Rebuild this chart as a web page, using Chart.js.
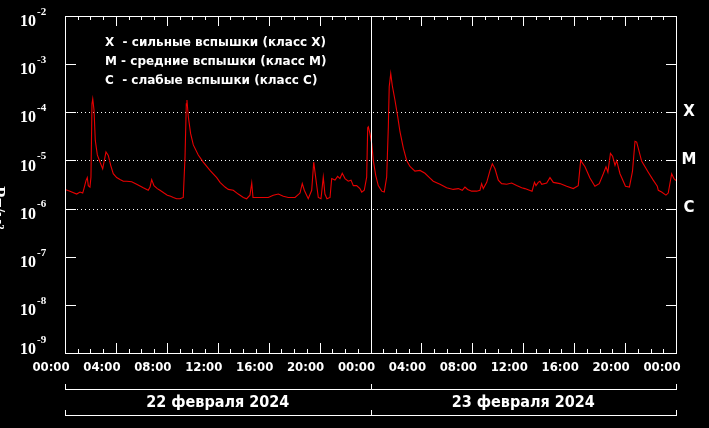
<!DOCTYPE html>
<html>
<head>
<meta charset="utf-8">
<script src="https://cdn.jsdelivr.net/npm/chart.js@4/dist/chart.umd.min.js"></script>
<style>
  html, body { margin: 0; padding: 0; background: #000; }
  #wrap { width: 709px; height: 428px; }
</style>
</head>
<body>
<div id="wrap"><canvas id="xray"></canvas></div>
<script>
// hours since 22 Feb 00:00 UT and X-ray flux, W/m2
var hours = [0.00, 0.39, 0.92, 1.18, 1.39, 1.49, 1.65, 1.75, 1.83, 1.96, 2.04, 2.12, 2.18, 2.28, 2.38, 2.54, 2.75, 2.96, 3.09, 3.22,
  3.40, 3.59, 3.79, 4.06, 4.32, 4.58, 4.85, 5.24, 5.63, 6.15, 6.54, 6.68, 6.81, 6.99, 7.25, 7.46, 7.78, 8.04, 8.30, 8.51,
  8.77, 9.03, 9.29, 9.43, 9.53, 9.58, 9.69, 9.87, 10.08, 10.47, 10.86, 11.39, 11.92, 12.18, 12.57, 12.83, 13.22, 13.61, 14.01, 14.27,
  14.53, 14.67, 14.77, 15.06, 15.45, 15.97, 16.36, 16.76, 17.15, 17.54, 18.07, 18.46, 18.64, 18.80, 19.11, 19.38, 19.54, 19.69, 19.90, 20.11,
  20.29, 20.42, 20.58, 20.82, 20.95, 21.21, 21.42, 21.60, 21.78, 22.00, 22.25, 22.47, 22.65, 22.91, 23.17, 23.31, 23.51, 23.70, 23.78, 23.83,
  23.96, 24.10, 24.22, 24.41, 24.61, 24.88, 25.08, 25.27, 25.40, 25.47, 25.59, 25.71, 25.92, 26.14, 26.32, 26.58, 26.84, 27.10, 27.49, 27.89,
  28.28, 28.59, 28.93, 29.46, 29.98, 30.50, 30.90, 31.21, 31.42, 31.63, 31.95, 32.34, 32.60, 32.73, 32.86, 33.13, 33.39, 33.57, 33.78, 34.04,
  34.30, 34.70, 35.09, 35.48, 35.88, 36.13, 36.69, 36.88, 37.00, 37.18, 37.31, 37.45, 37.84, 38.10, 38.36, 38.88, 39.41, 39.93, 40.32, 40.51,
  40.85, 41.24, 41.63, 41.97, 42.29, 42.50, 42.65, 42.85, 43.02, 43.21, 43.34, 43.60, 44.03, 44.34, 44.58, 44.78, 44.91, 45.30, 45.82, 46.21,
  46.53, 46.61, 46.87, 47.21, 47.39, 47.66, 47.84, 48.00];
var flux = [2.5e-6, 2.3e-6, 2.0e-6, 2.2e-6, 2.1e-6, 2.6e-6, 3.8e-6, 4.4e-6, 3.0e-6, 2.8e-6, 4.5e-6, 1.5e-4, 1.9e-4, 1.1e-4, 2.6e-5, 1.3e-5, 9.2e-6, 6.7e-6, 1.0e-5, 1.5e-5,
  1.27e-5, 7.9e-6, 5.3e-6, 4.4e-6, 4.0e-6, 3.7e-6, 3.7e-6, 3.6e-6, 3.2e-6, 2.7e-6, 2.4e-6, 2.8e-6, 4.0e-6, 3.0e-6, 2.6e-6, 2.4e-6, 2.1e-6, 1.9e-6, 1.8e-6, 1.7e-6,
  1.6e-6, 1.6e-6, 1.7e-6, 1.2e-5, 1.5e-4, 1.8e-4, 8.0e-5, 3.6e-5, 2.1e-5, 1.3e-5, 9.2e-6, 6.2e-6, 4.4e-6, 3.5e-6, 2.8e-6, 2.5e-6, 2.4e-6, 2.0e-6, 1.7e-6, 1.6e-6,
  1.9e-6, 3.4e-6, 1.7e-6, 1.7e-6, 1.7e-6, 1.7e-6, 1.9e-6, 2.0e-6, 1.8e-6, 1.7e-6, 1.7e-6, 2.1e-6, 3.3e-6, 2.4e-6, 1.6e-6, 2.4e-6, 9.2e-6, 4.5e-6, 1.7e-6, 1.6e-6,
  4.5e-6, 2.0e-6, 1.6e-6, 1.7e-6, 4.2e-6, 3.9e-6, 4.65e-6, 4.2e-6, 5.4e-6, 4.2e-6, 3.7e-6, 3.9e-6, 3.0e-6, 3.0e-6, 2.6e-6, 2.2e-6, 2.4e-6, 4.5e-6, 4.8e-5, 5.0e-5,
  3.6e-5, 2.2e-5, 1.0e-5, 4.9e-6, 3.0e-6, 2.3e-6, 2.2e-6, 4.5e-6, 4.9e-5, 3.4e-4, 6.4e-4, 3.6e-4, 1.8e-4, 8.0e-5, 3.9e-5, 1.8e-5, 1.0e-5, 7.5e-6, 6.0e-6, 6.2e-6,
  5.4e-6, 4.5e-6, 3.7e-6, 3.2e-6, 2.7e-6, 2.5e-6, 2.6e-6, 2.4e-6, 2.8e-6, 2.5e-6, 2.3e-6, 2.3e-6, 2.4e-6, 3.3e-6, 2.6e-6, 3.5e-6, 6.2e-6, 8.5e-6, 6.7e-6, 3.9e-6,
  3.3e-6, 3.2e-6, 3.4e-6, 3.0e-6, 2.7e-6, 2.6e-6, 2.3e-6, 3.5e-6, 3.0e-6, 3.5e-6, 3.7e-6, 3.2e-6, 3.4e-6, 4.4e-6, 3.5e-6, 3.3e-6, 2.9e-6, 2.6e-6, 3.0e-6, 1.0e-5,
  7.4e-6, 4.3e-6, 2.9e-6, 3.3e-6, 5.3e-6, 7.4e-6, 5.7e-6, 1.4e-5, 1.22e-5, 7.9e-6, 9.9e-6, 5.3e-6, 2.9e-6, 2.8e-6, 5.9e-6, 2.5e-5, 2.4e-5, 9.7e-6, 5.7e-6, 3.9e-6,
  2.9e-6, 2.4e-6, 2.2e-6, 1.9e-6, 2.1e-6, 5.3e-6, 4.2e-6, 3.8e-6];

var xTickHours = [0, 4, 8, 12, 16, 20, 24, 28, 32, 36, 40, 44, 48];
var xTickLabels = ['00:00', '04:00', '08:00', '12:00', '16:00', '20:00', '00:00', '04:00', '08:00', '12:00', '16:00', '20:00', '00:00'];
var yTickExps = [-2, -3, -4, -5, -6, -7, -8, -9];
var classValues = [1e-4, 1e-5, 1e-6];
var classLabels = ['X', 'M', 'C'];
var legendLines = ['X  - сильные вспышки (класс X)', 'M - средние вспышки (класс M)', 'C  - слабые вспышки (класс C)'];
var dayLabels = ['22 февраля 2024', '23 февраля 2024'];
var dayBounds = [0, 24, 48];
var yTitle = 'Вт/м²';

var points = hours.map(function(h, i) { return { x: h, y: flux[i] }; });

var narrow = '"Liberation Sans Narrow", "DejaVu Sans Condensed", sans-serif';

var framePlugin = {
    id: 'frame',
    beforeDatasetsDraw: function(chart) {
        var ctx = chart.ctx;
        var a = chart.chartArea;
        var ys = chart.scales.y;
        ctx.save();
        // dotted class lines
        ctx.strokeStyle = '#fff';
        ctx.lineWidth = 1;
        ctx.setLineDash([1, 3]);
        classValues.forEach(function(v) {
            var y = Math.round(ys.getPixelForValue(v)) + 0.5;
            ctx.beginPath();
            ctx.moveTo(a.left + 12, y);
            ctx.lineTo(a.right - 12, y);
            ctx.stroke();
        });
        ctx.restore();
    },
    afterDatasetsDraw: function(chart) {
        var ctx = chart.ctx;
        var a = chart.chartArea;
        var xs = chart.scales.x, ys = chart.scales.y;
        ctx.save();
        ctx.strokeStyle = '#fff';
        ctx.fillStyle = '#fff';
        ctx.lineWidth = 1;

        // frame
        ctx.strokeRect(Math.round(a.left) + 0.5, Math.round(a.top) + 0.5,
            Math.round(a.right - a.left), Math.round(a.bottom - a.top));

        // midnight line
        var mx = Math.round(xs.getPixelForValue(24)) + 0.5;
        ctx.beginPath();
        ctx.moveTo(mx, a.top);
        ctx.lineTo(mx, a.bottom);
        ctx.stroke();

        // x ticks, top and bottom, every hour
        ctx.beginPath();
        for (var h = 0; h <= 48; h++) {
            var x = Math.round(xs.getPixelForValue(h)) + 0.5;
            var len = (h % 4 === 0) ? 10 : 4;
            ctx.moveTo(x, a.top);
            ctx.lineTo(x, a.top + len);
            ctx.moveTo(x, a.bottom);
            ctx.lineTo(x, a.bottom - len);
        }
        // y ticks left and right
        yTickExps.forEach(function(e) {
            var y = Math.round(ys.getPixelForValue(Math.pow(10, e))) + 0.5;
            ctx.moveTo(a.left, y);
            ctx.lineTo(a.left + 11, y);
            ctx.moveTo(a.right, y);
            ctx.lineTo(a.right - 10, y);
        });
        ctx.stroke();

        // x tick labels
        ctx.font = 'bold 13px ' + narrow;
        ctx.textAlign = 'center';
        ctx.textBaseline = 'middle';
        xTickHours.forEach(function(h, i) {
            ctx.fillText(xTickLabels[i], xs.getPixelForValue(h) - 14, a.bottom + 15);
        });

        // y tick labels 10^e
        yTickExps.forEach(function(e) {
            var y = ys.getPixelForValue(Math.pow(10, e)) + 6;
            y = Math.min(y, a.bottom - 3);
            ctx.font = 'bold 16px "Liberation Serif", serif';
            ctx.textAlign = 'right';
            ctx.textBaseline = 'middle';
            ctx.fillText('10', 36, y);
            ctx.font = 'bold 11px "Liberation Serif", serif';
            ctx.textAlign = 'left';
            ctx.fillText(String(e), 37, y - 10);
        });

        // class labels on the right
        ctx.font = 'bold 15px "DejaVu Sans", sans-serif';
        ctx.textAlign = 'center';
        ctx.textBaseline = 'middle';
        classValues.forEach(function(v, i) {
            ctx.fillText(classLabels[i], a.right + 13, ys.getPixelForValue(v));
        });

        // legend
        ctx.font = 'bold 12px "DejaVu Sans", sans-serif';
        ctx.textAlign = 'left';
        legendLines.forEach(function(t, i) {
            ctx.fillText(t, 105, 43 + i * 19);
        });

        // day brackets
        [389, 415].forEach(function(by) {
            ctx.beginPath();
            dayBounds.forEach(function(h) {
                var x = Math.round(xs.getPixelForValue(h)) + 0.5;
                ctx.moveTo(x, by - 5);
                ctx.lineTo(x, by + 0.5);
            });
            ctx.moveTo(xs.getPixelForValue(0), by + 0.5);
            ctx.lineTo(xs.getPixelForValue(48) + 1, by + 0.5);
            ctx.stroke();
        });
        ctx.font = 'bold 16px ' + narrow;
        ctx.textAlign = 'center';
        dayLabels.forEach(function(t, i) {
            var cx = (xs.getPixelForValue(dayBounds[i]) + xs.getPixelForValue(dayBounds[i + 1])) / 2;
            ctx.fillText(t, cx, 403);
        });

        // axis title, mostly off the left edge
        ctx.translate(-8, 208);
        ctx.rotate(Math.PI / 2);
        ctx.font = 'bold 18px "Liberation Serif", serif';
        ctx.textAlign = 'center';
        ctx.textBaseline = 'alphabetic';
        ctx.fillText(yTitle, 0, 0);
        ctx.restore();
    }
};

new Chart(document.getElementById('xray'), {
    type: 'scatter',
    data: {
        datasets: [{
            data: points,
            showLine: true,
            borderColor: '#e80000',
            borderWidth: 1.1,
            pointRadius: 0,
            tension: 0
        }]
    },
    options: {
        responsive: true,
        maintainAspectRatio: false,
        animation: false,
        layout: { padding: { top: 16, right: 33, left: 0, bottom: 0 } },
        plugins: { legend: { display: false }, tooltip: { enabled: false } },
        scales: {
            x: {
                type: 'linear',
                min: 0,
                max: 48,
                ticks: { display: false },
                grid: { display: false },
                border: { display: false },
                afterFit: function(scale) { scale.height = 75; }
            },
            y: {
                type: 'logarithmic',
                min: 1e-9,
                max: 1e-2,
                ticks: { display: false },
                grid: { display: false },
                border: { display: false },
                afterFit: function(scale) { scale.width = 65; }
            }
        }
    },
    plugins: [framePlugin]
});
</script>
</body>
</html>
